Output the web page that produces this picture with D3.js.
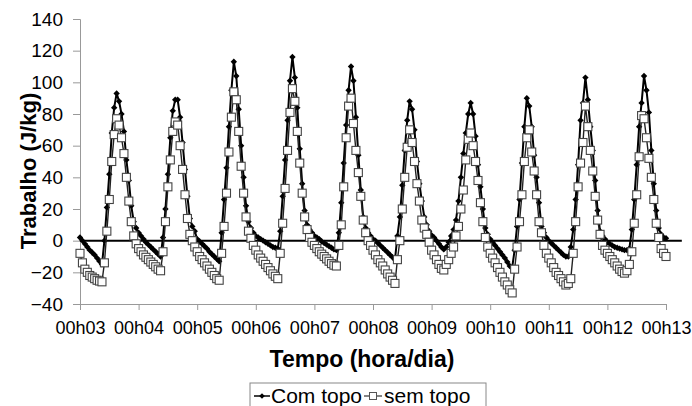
<!DOCTYPE html>
<html>
<head>
<meta charset="utf-8">
<script src="https://cdn.jsdelivr.net/npm/d3@7"></script>
<style>
  body { margin: 0; background: #fff; }
  text { font-family: "Liberation Sans", Arial, sans-serif; }
</style>
</head>
<body>
<div id="chart-area"></div>
<script>
// one value per hour, from day 03 00h to day 13 00h
var dayLabels = ["00h03", "00h04", "00h05", "00h06", "00h07", "00h08", "00h09", "00h10", "00h11", "00h12", "00h13"];
var dayTicks = [3, 4, 5, 6, 7, 8, 9, 10, 11, 12, 13];
var yTicks = [-40, -20, 0, 20, 40, 60, 80, 100, 120, 140];

var comTopo = [
  2, 0, -2, -4, -6, -7.5, -9, -11, -13, -15, 0, 21, 42, 68, 84, 93, 88, 80, 69, 51, 38, 22, 12, 8,
  5, 3, 1, -1, -2.5, -4, -5.5, -7, -8.5, -10, 2, 20, 42, 65, 82, 89, 89, 78, 62, 45, 28, 14, 9, 6,
  1, -0.5, -2, -3.5, -5, -7, -8.5, -10, -11.5, -13, 5, 26, 46, 72, 95, 113, 104, 83, 60, 40, 22, 12, 8, 5,
  3, 2, 1, 0, -1, -2, -3, -4, -4.5, -5, 6, 28, 51, 76, 101, 116, 103, 84, 58, 36, 19, 10, 7, 5,
  3, 2, 1, -0.5, -1.5, -2.5, -3.5, -4.5, -5.5, -6, 5, 24, 49, 73, 95, 110, 101, 78, 54, 32, 15, 8, 5, 3,
  1, 0, -1.5, -3, -4.5, -6, -7.5, -9, -10.5, -12, 3, 15, 35, 57, 76, 88, 83, 70, 50, 36, 25, 15, 10, 6,
  3.5, 2, 0, -2, -4, -5.5, -4, -1, 3, 7, 13, 25, 40, 55, 68, 80, 87, 80, 66, 48, 34, 20, 8, 4,
  1, -1, -3, -5, -7, -9, -11, -13.5, -16, -17, -6, 9, 26, 49, 72, 90, 85, 72, 54, 40, 24, 9, 5, 2,
  0, -1.5, -3, -4.5, -6, -7.5, -9, -10, -10, -4, 7, 26, 48, 76, 87, 103, 89, 72, 57, 38, 19, 6, 3, 1,
  -1, -2, -3, -4, -4.5, -5, -5.5, -6, -6, -5, 7, 26, 48, 72, 87, 104, 95, 81, 57, 36, 19, 8, 4, 2,
  1.5
];

var semTopo = [
  -8, -14, -18, -20, -22, -23, -24, -25, -25.5, -26, -14, 6, 26, 50, 67, 77, 73, 65, 55, 40, 25, 12, 3, -2,
  -5, -7, -9, -10.5, -12, -13.5, -15, -16.5, -18, -19, -7, 12, 34, 51, 69, 75, 73, 60, 45, 29, 14, 4, 0, -4,
  -7, -10, -12, -14, -16, -18, -20, -22, -24, -25, -8, 9, 30, 56, 78, 94, 89, 69, 47, 30, 15, 6, 1.5, -3,
  -6, -9, -11, -13, -15, -17, -19, -21, -22.5, -24, -8, 11, 33, 57, 81, 96, 88, 69, 49, 30, 15, 7, 2, -1,
  -3, -5, -7, -8.5, -10, -11.5, -13, -14.5, -15.5, -16, -3, 10, 34, 65, 85, 90, 74, 57, 43, 28, 13, 5, 0, -3,
  -6, -9, -12, -14, -16, -18.5, -21, -23, -25, -27, -12, 0, 20, 40, 59, 70, 62, 50, 36, 25, 13, 8, 4, -1,
  -6, -9, -12, -15, -17.5, -18.5, -15, -12, -8, -4, 3, 9, 20, 32, 51, 64, 68, 60, 50, 38, 24, 12, 2, -4,
  -8, -11, -14, -17, -20, -23, -26, -28, -31, -33, -18, -4, 12, 29, 50, 65, 70, 56, 44, 29, 12, 5, -3, -8,
  -11, -14, -17, -20, -22, -24, -26, -28, -27, -24, -8, 12, 34, 49, 62, 85, 72, 57, 44, 28, 13, 4, -3, -6,
  -8, -10, -12, -14, -16, -18, -19.5, -20.5, -19, -15, -7, 11, 29, 53, 79, 77, 65, 52, 40, 26, 11, 2, -5, -8,
  -10
];

var startDay = 3;

var svg = d3.select("#chart-area").append("svg")
    .attr("width", 692)
    .attr("height", 406);

var x = d3.scaleLinear().domain([3, 13]).range([80, 666]);
var y = d3.scaleLinear().domain([-40, 140]).range([304, 19]);

function hourX(d, i) { return x(startDay + i / 24); }

// y axis
var yAxis = svg.append("g")
    .attr("transform", "translate(80,0)")
    .call(d3.axisLeft(y).tickValues(yTicks).tickSize(7).tickPadding(10));
yAxis.select(".domain").attr("stroke", "#999");
yAxis.selectAll(".tick line").attr("stroke", "#999");
yAxis.selectAll("text").attr("font-size", 19).attr("fill", "#000")
    .style("font-family", "'Liberation Sans', Arial, sans-serif");

// x axis at the bottom
var xAxis = svg.append("g")
    .attr("transform", "translate(0," + y(-40) + ")")
    .call(d3.axisBottom(x).tickValues(dayTicks)
      .tickFormat(function(d, i) { return dayLabels[i]; })
      .tickSize(6).tickPadding(11).tickSizeOuter(0));
xAxis.select(".domain").attr("stroke", "#999");
xAxis.selectAll(".tick line").attr("stroke", "#999");
xAxis.selectAll("text").attr("font-size", 18).attr("fill", "#000")
    .style("font-family", "'Liberation Sans', Arial, sans-serif");

// zero line
svg.append("line")
    .attr("x1", x(3)).attr("x2", x(13.27))
    .attr("y1", y(0)).attr("y2", y(0))
    .attr("stroke", "#000")
    .attr("stroke-width", 2);

var line = d3.line().x(hourX).y(function(d) { return y(d); });

svg.append("path")
    .datum(comTopo)
    .attr("d", line)
    .attr("fill", "none")
    .attr("stroke", "#000")
    .attr("stroke-width", 2);

svg.selectAll(".com")
    .data(comTopo)
  .enter().append("path")
    .attr("class", "com")
    .attr("transform", function(d, i) { return "translate(" + hourX(d, i) + "," + y(d) + ")"; })
    .attr("d", d3.symbol().type(d3.symbolDiamond2).size(26))
    .attr("fill", "#000");

svg.append("path")
    .datum(semTopo)
    .attr("d", line)
    .attr("fill", "none")
    .attr("stroke", "#222")
    .attr("stroke-width", 1.4);

svg.selectAll(".sem")
    .data(semTopo)
  .enter().append("rect")
    .attr("class", "sem")
    .attr("x", function(d, i) { return hourX(d, i) - 4; })
    .attr("y", function(d) { return y(d) - 4; })
    .attr("width", 8)
    .attr("height", 8)
    .attr("fill", "#fff")
    .attr("stroke", "#444")
    .attr("stroke-width", 1.1);

// titles
svg.append("text")
    .attr("x", 362)
    .attr("y", 367)
    .attr("text-anchor", "middle")
    .attr("font-size", 23)
    .attr("font-weight", "bold")
    .text("Tempo (hora/dia)");

svg.append("text")
    .attr("transform", "translate(36,171) rotate(-90)")
    .attr("text-anchor", "middle")
    .attr("font-size", 22)
    .attr("font-weight", "bold")
    .text("Trabalho (J/kg)");

// legend
var legend = svg.append("g");
legend.append("rect")
    .attr("x", 250).attr("y", 383)
    .attr("width", 236).attr("height", 30)
    .attr("fill", "#fff")
    .attr("stroke", "#888");
legend.append("line")
    .attr("x1", 254).attr("x2", 270).attr("y1", 396).attr("y2", 396)
    .attr("stroke", "#000").attr("stroke-width", 1.5);
legend.append("path")
    .attr("transform", "translate(262,396)")
    .attr("d", d3.symbol().type(d3.symbolDiamond2).size(20))
    .attr("fill", "#000");
legend.append("text")
    .attr("x", 271).attr("y", 403)
    .attr("font-size", 21)
    .text("Com topo");
legend.append("line")
    .attr("x1", 364).attr("x2", 382).attr("y1", 396).attr("y2", 396)
    .attr("stroke", "#333").attr("stroke-width", 1.2);
legend.append("rect")
    .attr("x", 369.5).attr("y", 392.5).attr("width", 7).attr("height", 7)
    .attr("fill", "#fff").attr("stroke", "#555");
legend.append("text")
    .attr("x", 384).attr("y", 403)
    .attr("font-size", 21)
    .text("sem topo");
</script>
</body>
</html>
